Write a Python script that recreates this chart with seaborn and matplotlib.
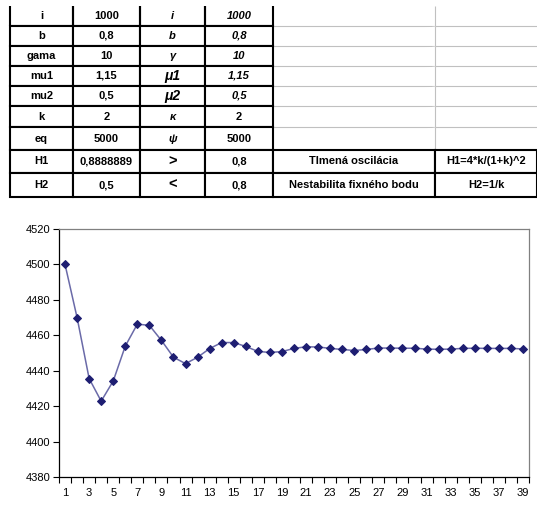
import numpy as np
import matplotlib
matplotlib.use('Agg')
import matplotlib.pyplot as plt
import pandas as pd
import seaborn as sns

# parameter table (spreadsheet block above the chart)
names = ['i', 'b', 'gama', 'mu1', 'mu2', 'k', 'eq', 'H1', 'H2']
values = ['1000', '0,8', '10', '1,15', '0,5', '2', '5000', '0,8888889', '0,5']
symbols = ['i', 'b', 'γ', 'μ1', 'μ2', 'κ', 'ψ', '>', '<']
sym_values = ['1000', '0,8', '10', '1,15', '0,5', '2', '5000', '0,8', '0,8']
notes = ['', '', '', '', '', '', '', 'Tlmená oscilácia', 'Nestabilita fixného bodu']
formulas = ['', '', '', '', '', '', '', 'H1=4*k/(1+k)^2', 'H2=1/k']

# iterated series
steps = list(range(1, 40))
output = [4500.0, 4470.0, 4435.6, 4422.8, 4434.2, 4453.9, 4466.3, 4465.6, 4457.1, 4447.6,
          4444.0, 4447.6, 4452.5, 4455.9, 4455.9, 4453.7, 4450.9, 4450.3, 4450.8, 4452.6,
          4453.5, 4453.4, 4452.6, 4452.0, 4451.4, 4452.0, 4452.8, 4452.8, 4452.7, 4452.7,
          4452.2, 4452.1, 4452.2, 4452.6, 4452.7, 4452.6, 4452.6, 4452.6, 4452.3]

sns.set_style('white')
plt.rcParams['font.family'] = ['Liberation Sans', 'DejaVu Sans']
plt.rcParams['text.color'] = 'black'
plt.rcParams['xtick.color'] = 'black'
plt.rcParams['ytick.color'] = 'black'

W, H = 537, 513
fig = plt.figure(figsize=(W / 100, H / 100), dpi=100)

# ---- table ----
col_w = [63, 67, 65, 68, 162, 102]
row_h = [20, 20, 20, 20, 20, 21, 23, 23, 24]
tab_top, tab_left = 6, 10
tab_h = sum(row_h)
tax = fig.add_axes([tab_left / W, (H - tab_top - tab_h) / H, sum(col_w) / W, tab_h / H])
tax.axis('off')

cells = [list(r) for r in zip(names, values, symbols, sym_values, notes, formulas)]
tbl = tax.table(cellText=cells, cellLoc='center', bbox=[0, 0, 1, 1],
                colWidths=[w / sum(col_w) for w in col_w])
tbl.auto_set_font_size(False)

for (r, c), cell in tbl.get_celld().items():
    cell.set_height(row_h[r] / tab_h)
    cell.set_width(col_w[c] / sum(col_w))
    txt = cell.get_text()
    txt.set_fontsize(8)
    txt.set_fontweight('bold')
    txt.set_color('black')
    if c == 2 and r < 7:
        txt.set_fontstyle('italic')
        if symbols[r].startswith('μ'):
            txt.set_fontsize(10)
    if c == 2 and r >= 7:
        txt.set_fontsize(10.5)
    if c == 3 and r < 5:
        txt.set_fontstyle('italic')
    if c >= 4 and r < 7:
        cell.set_edgecolor('#c0c0c0')
        cell.set_linewidth(0.8)
        cell.visible_edges = 'BR' if c == 4 else 'B'
    else:
        cell.set_edgecolor('black')
        cell.set_linewidth(1.5)
        if r == 0:
            cell.visible_edges = 'BRL'

# ---- chart ----
ax = fig.add_axes([59 / W, (H - 477) / H, 470 / W, 248 / H])
sns.lineplot(x=steps, y=output, ax=ax, color='#6a6aa8', linewidth=1.1,
             marker='D', markersize=4.5)
line = ax.lines[0]
line.set_markerfacecolor('#1e1e72')
line.set_markeredgecolor('#1e1e72')

ax.set_xlim(0.5, 39.5)
ax.set_ylim(4380, 4520)
ax.set_yticks(np.arange(4380, 4521, 20))
ax.set_xticks(steps[::2])
ax.set_xticks(np.arange(0.5, 40, 1), minor=True)
ax.tick_params(axis='x', which='major', length=0, pad=8, labelsize=8)
ax.tick_params(axis='x', which='minor', length=4, width=0.8, direction='out', bottom=True)
ax.tick_params(axis='y', which='major', length=4, width=0.8, direction='out', left=True,
               pad=2, labelsize=8)
for side in ['left', 'bottom']:
    ax.spines[side].set_color('black')
    ax.spines[side].set_linewidth(0.9)
for side in ['top', 'right']:
    ax.spines[side].set_color('#808080')
    ax.spines[side].set_linewidth(0.9)
ax.grid(False)

fig.savefig('out.png', dpi=100)
